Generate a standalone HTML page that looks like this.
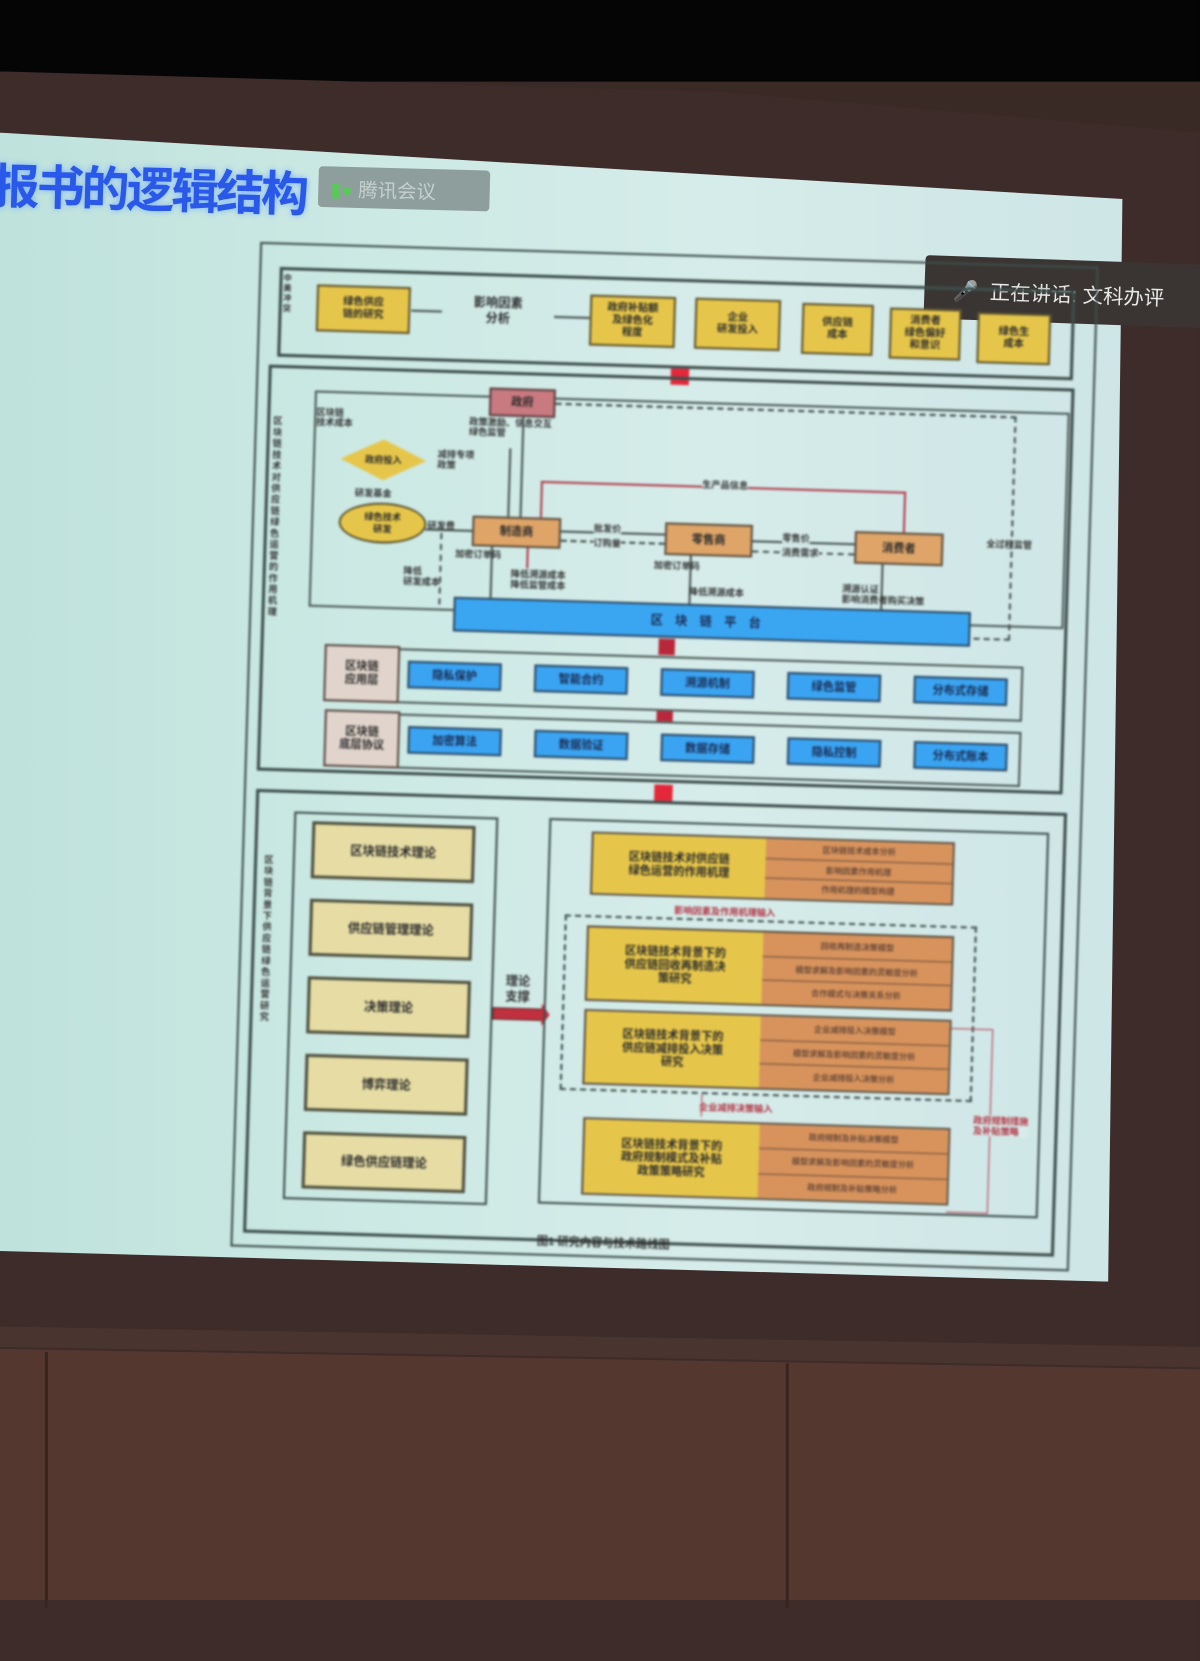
<!DOCTYPE html>
<html><head><meta charset="utf-8"><style>
html,body{margin:0;padding:0;width:1200px;height:1600px;overflow:hidden;background:#3a2a26}
*{box-sizing:border-box}
#w{position:absolute;left:0;top:0;width:1176px;height:1568px;transform:scale(1.0204);transform-origin:0 0;font-family:"Liberation Sans","Noto Sans CJK SC",sans-serif}
.a{position:absolute}
#d{position:absolute;left:255px;top:237px;width:830px;height:990px;transform:rotate(1.7deg);transform-origin:0 0;filter:blur(1px);font-weight:bold;color:#2a2a2a}
.bx{position:absolute;display:flex;align-items:center;justify-content:center;text-align:center;font-size:10px;line-height:12px}
.y{background:#e6c64a;border:2px solid #5e5530}
.o{background:#dea468;border:2px solid #5e5040}
.b{background:#3aa4f2;border:2px solid #2e4a66;font-size:11px;color:#1a2a50}
.be{background:#e6dca4;border:3px solid #4e5040;font-size:12px}
.fr{position:absolute;border:2px solid #3e4e4c}
.t{position:absolute;font-size:9px;line-height:10px;color:#333}
.ln{position:absolute;background:#44504e}
.rl{position:absolute;background:#b03a4a}
.arr{position:absolute;width:18px;height:16px;background:#e3283a}
.rows{position:absolute;right:0;top:0;bottom:0;width:52%;background:#d8935c;display:flex;flex-direction:column}
.rows div{flex:1;border-top:1px solid #6a4a3a;font-size:8px;color:#6a4a3a;display:flex;align-items:center;justify-content:center}
.rows div:first-child{border-top:none}
.rb{position:absolute;border:2px solid #5e5040;display:flex}
.rb .lt{width:48%;background:#e6c64a;display:flex;align-items:center;justify-content:center;font-size:11px;line-height:13px;text-align:center;padding:3px}
</style></head><body><div id="w">
<div class="a" style="left:0;top:0;width:1176px;height:80px;background:#050505"></div>
<div class="a" style="left:0;top:60px;width:1176px;height:1568px;background:#3d2c29;clip-path:polygon(0 10px,60% 30px,100% 70px,100% 100%,0 100%)"></div>
<div class="a" style="left:0;top:0;width:1176px;height:1568px;background:linear-gradient(90deg,#bfe2dc 0%,#cce9e4 30%,#d6ecea 60%,#cde4e6 100%);clip-path:polygon(0 130px,1100px 195px,1086px 1256px,0 1226px)"></div>
<div class="a" style="left:0;top:0;width:1176px;height:1568px;background:#4a3430;clip-path:polygon(0 1300px,1176px 1320px,1176px 1340px,0 1320px)"></div>
<div class="a" style="left:0;top:0;width:1176px;height:1568px;background:#54382f;clip-path:polygon(0 1322px,1176px 1342px,1176px 1568px,0 1568px)"></div>
<div class="a" style="left:44px;top:1325px;width:3px;height:250px;background:#3a2420"></div>
<div class="a" style="left:770px;top:1336px;width:3px;height:240px;background:#3a2420"></div>
<div class="a" style="left:-8px;top:148px;font-size:47px;font-weight:bold;color:#2a58e8;text-shadow:0 0 6px #7ab0ff;letter-spacing:-3px;transform:rotate(1.5deg);white-space:nowrap">报书的逻辑结构</div>
<div class="a" style="left:312px;top:165px;width:168px;height:40px;background:#8e9e9c;border-radius:4px;transform:rotate(1.5deg);color:#c5d0cf;font-size:19px;padding:8px 0 0 12px"><span style="color:#5ac85a">▮●</span> 腾讯会议</div>
<div class="a" style="left:906px;top:255px;width:290px;height:62px;background:#3a3532;border-radius:4px;transform:rotate(2deg);color:#e8e8e8;font-size:20px;padding:18px 0 0 28px;white-space:nowrap"><span style="color:#4a8a5a">🎤</span>&nbsp; 正在讲话: 文科办评</div>
<div id="d">
 <div class="fr" style="left:0;top:0;width:822px;height:985px"></div>
 <div class="fr" style="left:20px;top:24px;width:780px;height:88px;border-width:3px"></div>
 <div class="t" style="left:24px;top:30px;width:10px;font-size:8px">中美冲突</div>
 <div class="bx y" style="left:57px;top:40px;width:92px;height:46px">绿色供应<br>链的研究</div>
 <div class="ln" style="left:150px;top:62px;width:30px;height:2px"></div>
 <div class="bx" style="left:200px;top:46px;width:70px;height:30px;font-size:12px;line-height:15px">影响因素<br>分析</div>
 <div class="ln" style="left:290px;top:64px;width:35px;height:2px"></div>
 <div class="bx y" style="left:325px;top:42px;width:84px;height:50px">政府补贴额<br>及绿色化<br>程度</div>
 <div class="bx y" style="left:428px;top:42px;width:84px;height:50px">企业<br>研发投入</div>
 <div class="bx y" style="left:533px;top:44px;width:70px;height:50px">供应链<br>成本</div>
 <div class="bx y" style="left:619px;top:46px;width:70px;height:50px">消费者<br>绿色偏好<br>和意识</div>
 <div class="bx y" style="left:705px;top:48px;width:72px;height:50px">绿色生<br>成本</div>
 <div class="arr" style="left:406px;top:112px"></div>
 <div class="fr" style="left:12px;top:120px;width:790px;height:398px;border-width:3px"></div>
 <div class="t" style="left:18px;top:170px;width:10px;line-height:11px">区块链技术对供应链绿色运营的作用机理</div>
 <div class="fr" style="left:58px;top:144px;width:740px;height:212px;border-color:#4a5856"></div>
 <div class="bx" style="left:229px;top:136px;width:65px;height:28px;background:#c87a80;border:2px solid #5a4040;font-size:11px">政府</div>
 <div style="position:absolute;left:294px;top:149px;width:452px;height:220px;border-top:2px dashed #44504e;border-right:2px dashed #44504e;border-bottom:2px dashed #44504e"></div>
 <div class="t" style="left:720px;top:270px;width:60px">全过程监管</div>
 <div class="bx" style="left:85px;top:190px;width:84px;height:40px;background:#e6c64a;clip-path:polygon(50% 0,100% 50%,50% 100%,0 50%);font-size:9px">政府投入</div>
 <div class="bx" style="left:85px;top:252px;width:86px;height:40px;background:#e6c64a;border:2px solid #5e5530;border-radius:50%;font-size:9px">绿色技术<br>研发</div>
 <div class="t" style="left:60px;top:160px">区块链<br>技术成本</div>
 <div class="t" style="left:100px;top:238px">研发基金</div>
 <div class="t" style="left:180px;top:198px">减排专项<br>政策</div>
 <div class="t" style="left:210px;top:165px">政策激励、信息交互<br>绿色监管</div>
 <div class="ln" style="left:250px;top:195px;width:2px;height:70px"></div>
 <div class="ln" style="left:262px;top:164px;width:2px;height:100px"></div>
 <div class="rl" style="left:282px;top:226px;width:2px;height:38px"></div>
 <div class="rl" style="left:282px;top:226px;width:358px;height:2px"></div>
 <div class="rl" style="left:638px;top:226px;width:2px;height:40px"></div>
 <div class="t" style="left:440px;top:220px;background:#d6ecea">生产品信息</div>
 <div class="bx o" style="left:216px;top:262px;width:87px;height:30px;font-size:11px">制造商</div>
 <div class="bx o" style="left:405px;top:263px;width:86px;height:32px;font-size:11px">零售商</div>
 <div class="bx o" style="left:591px;top:266px;width:87px;height:32px;font-size:11px">消费者</div>
 <div class="ln" style="left:303px;top:274px;width:102px;height:2px"></div>
 <div style="position:absolute;left:303px;top:283px;width:102px;border-top:2px dashed #44504e"></div>
 <div class="ln" style="left:491px;top:278px;width:100px;height:2px"></div>
 <div style="position:absolute;left:491px;top:288px;width:100px;border-top:2px dashed #44504e"></div>
 <div class="t" style="left:335px;top:266px;background:#d6ecea">批发价</div>
 <div class="t" style="left:335px;top:280px;background:#d6ecea">订购量</div>
 <div class="t" style="left:520px;top:270px;background:#d6ecea">零售价</div>
 <div class="t" style="left:520px;top:284px;background:#d6ecea">消费需求</div>
 <div class="t" style="left:172px;top:268px">研发费</div>
 <div class="ln" style="left:170px;top:276px;width:46px;height:2px"></div>
 <div style="position:absolute;left:185px;top:280px;height:70px;border-left:2px dashed #44504e"></div>
 <div class="ln" style="left:235px;top:292px;width:2px;height:50px"></div>
 <div class="rl" style="left:270px;top:292px;width:2px;height:20px"></div>
 <div class="ln" style="left:430px;top:295px;width:2px;height:48px"></div>
 <div class="ln" style="left:618px;top:298px;width:2px;height:45px"></div>
 <div class="t" style="left:200px;top:295px">加密订单码</div>
 <div class="t" style="left:150px;top:313px">降低<br>研发成本</div>
 <div class="t" style="left:255px;top:313px">降低溯源成本<br>降低监管成本</div>
 <div class="t" style="left:395px;top:300px">加密订单码</div>
 <div class="t" style="left:430px;top:325px">降低溯源成本</div>
 <div class="t" style="left:580px;top:318px">溯源认证<br>影响消费者购买决策</div>
 <div class="bx" style="left:200px;top:342px;width:507px;height:34px;background:#3aa6f2;border:2px solid #2e4a66;font-size:12px;letter-spacing:12px;color:#1a2a50">区块链平台</div>
 <div class="arr" style="left:402px;top:377px;width:16px;background:#b8283a"></div>
 <div class="fr" style="left:75px;top:394px;width:685px;height:54px;border-color:#4a5856"></div>
 <div class="bx" style="left:75px;top:392px;width:74px;height:56px;background:#e0d4cc;border:2px solid #5a4a44;font-size:11px;line-height:13px">区块链<br>应用层</div>
 <div class="bx b" style="left:157px;top:406px;width:92px;height:27px">隐私保护</div>
 <div class="bx b" style="left:281px;top:406px;width:92px;height:27px">智能合约</div>
 <div class="bx b" style="left:405px;top:406px;width:92px;height:27px">溯源机制</div>
 <div class="bx b" style="left:529px;top:406px;width:92px;height:27px">绿色监管</div>
 <div class="bx b" style="left:653px;top:406px;width:92px;height:27px">分布式存储</div>
 <div class="arr" style="left:402px;top:448px;width:16px;height:10px;background:#b8283a"></div>
 <div class="fr" style="left:77px;top:458px;width:683px;height:54px;border-color:#4a5856"></div>
 <div class="bx" style="left:77px;top:456px;width:74px;height:56px;background:#e0d4cc;border:2px solid #5a4a44;font-size:11px;line-height:13px">区块链<br>底层协议</div>
 <div class="bx b" style="left:159px;top:470px;width:92px;height:27px">加密算法</div>
 <div class="bx b" style="left:283px;top:470px;width:92px;height:27px">数据验证</div>
 <div class="bx b" style="left:407px;top:470px;width:92px;height:27px">数据存储</div>
 <div class="bx b" style="left:531px;top:470px;width:92px;height:27px">隐私控制</div>
 <div class="bx b" style="left:655px;top:470px;width:92px;height:27px">分布式账本</div>
 <div class="arr" style="left:402px;top:520px"></div>
 <div class="fr" style="left:12px;top:536px;width:795px;height:435px;border-width:3px"></div>
 <div class="t" style="left:22px;top:600px;width:10px;line-height:11px">区块链背景下供应链绿色运营研究</div>
 <div class="fr" style="left:50px;top:557px;width:200px;height:380px"></div>
 <div class="bx be" style="left:68px;top:566px;width:160px;height:56px">区块链技术理论</div>
 <div class="bx be" style="left:68px;top:642px;width:160px;height:56px">供应链管理理论</div>
 <div class="bx be" style="left:68px;top:718px;width:160px;height:56px">决策理论</div>
 <div class="bx be" style="left:68px;top:794px;width:160px;height:56px">博弈理论</div>
 <div class="bx be" style="left:68px;top:870px;width:160px;height:56px">绿色供应链理论</div>
 <div class="t" style="left:262px;top:710px;font-size:12px;line-height:15px">理论<br>支撑</div>
 <div class="a" style="left:250px;top:743px;width:50px;height:12px;background:#c0303e;border:1px solid #5a2a2a"></div>
 <div class="a" style="left:298px;top:738px;width:0;height:0;border-left:8px solid #c0303e;border-top:11px solid transparent;border-bottom:11px solid transparent"></div>
 <div class="fr" style="left:300px;top:556px;width:490px;height:378px"></div>
 <div class="rb" style="left:342px;top:568px;width:356px;height:62px"><div class="lt">区块链技术对供应链<br>绿色运营的作用机理</div><div class="rows"><div>区块链技术成本分析</div><div>影响因素作用机理</div><div>作用机理的模型构建</div></div></div>
 <div class="t" style="left:425px;top:638px;color:#b03040;font-size:9px">影响因素及作用机理输入</div>
 <div style="position:absolute;left:318px;top:650px;width:404px;height:172px;border:2px dashed #3e4e4c"></div>
 <div class="rb" style="left:340px;top:660px;width:360px;height:74px"><div class="lt">区块链技术背景下的<br>供应链回收再制造决<br>策研究</div><div class="rows"><div>回收再制造决策模型</div><div>模型求解及影响因素的灵敏度分析</div><div>合作模式与决策关系分析</div></div></div>
 <div class="rb" style="left:340px;top:742px;width:360px;height:74px"><div class="lt">区块链技术背景下的<br>供应链减排投入决策<br>研究</div><div class="rows"><div>企业减排投入决策模型</div><div>模型求解及影响因素的灵敏度分析</div><div>企业减排投入决策分析</div></div></div>
 <div class="t" style="left:455px;top:830px;color:#b03040">企业减排决策输入</div>
 <div class="rl" style="left:457px;top:822px;width:1px;height:22px"></div>
 <div class="rb" style="left:342px;top:848px;width:360px;height:76px"><div class="lt">区块链技术背景下的<br>政府规制模式及补贴<br>政策策略研究</div><div class="rows"><div>政府规制及补贴决策模型</div><div>模型求解及影响因素的灵敏度分析</div><div>政府规制及补贴策略分析</div></div></div>
 <div class="rl" style="left:700px;top:750px;width:40px;height:1px"></div>
 <div class="rl" style="left:740px;top:750px;width:1px;height:180px"></div>
 <div class="rl" style="left:700px;top:930px;width:41px;height:1px"></div>
 <div class="t" style="left:724px;top:835px;color:#b03040;background:#d6ecea">政府规制措施<br>及补贴策略</div>
 <div class="t" style="left:300px;top:966px;font-size:11px">图1 研究内容与技术路线图</div>
</div>
</div></body></html>
